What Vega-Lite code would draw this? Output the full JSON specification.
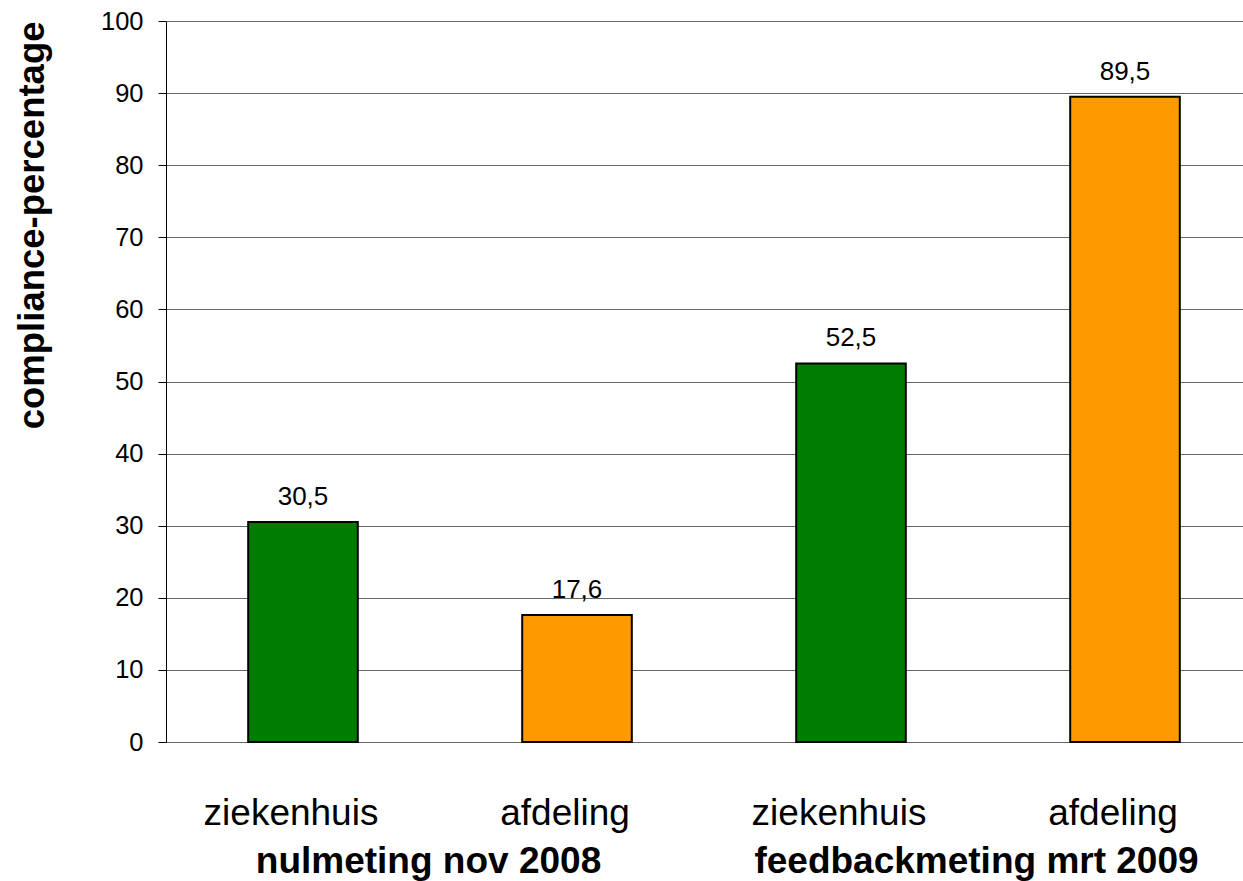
{
  "$schema": "https://vega.github.io/schema/vega-lite/v6.json",
  "width": 1077,
  "height": 721,
  "autosize": {"type": "none"},
  "padding": {"left": 166, "top": 21, "right": 0, "bottom": 139},
  "background": "white",
  "config": {
    "font": "Liberation Sans",
    "view": {"stroke": null},
    "locale": {"number": {"decimal": ",", "thousands": ".", "grouping": [3], "currency": ["€", ""]}}
  },
  "data": {
    "values": [
      {"meting": "nulmeting nov 2008", "niveau": "ziekenhuis", "staaf": "nulmeting nov 2008|ziekenhuis", "pct": 30.5},
      {"meting": "nulmeting nov 2008", "niveau": "afdeling", "staaf": "nulmeting nov 2008|afdeling", "pct": 17.6},
      {"meting": "feedbackmeting mrt 2009", "niveau": "ziekenhuis", "staaf": "feedbackmeting mrt 2009|ziekenhuis", "pct": 52.5},
      {"meting": "feedbackmeting mrt 2009", "niveau": "afdeling", "staaf": "feedbackmeting mrt 2009|afdeling", "pct": 89.5}
    ]
  },
  "layer": [
    {
      "encoding": {
        "x": {
          "field": "staaf",
          "type": "nominal",
          "sort": null,
          "scale": {"type": "band", "range": [0, 1096], "paddingInner": 0.6, "paddingOuter": 0.3},
          "axis": {
            "orient": "bottom",
            "title": null,
            "domain": false,
            "ticks": false,
            "tickSize": 0,
            "grid": false,
            "labelAngle": 0,
            "labelLimit": 0,
            "labelOverlap": false,
            "labelExpr": "split(datum.value, '|')[1]",
            "labelFont": "Liberation Sans",
            "labelFontSize": 37,
            "labelColor": "black",
            "labelPadding": 82,
            "labelOffset": -12,
            "labelBaseline": "alphabetic"
          }
        },
        "y": {
          "field": "pct",
          "type": "quantitative",
          "scale": {"domain": [0, 100], "nice": false},
          "axis": {
            "title": "compliance-percentage",
            "titleFont": "Liberation Sans",
            "titleFontSize": 36.5,
            "titleFontWeight": "bold",
            "titleColor": "black",
            "titleAnchor": "end",
            "titlePadding": 49,
            "values": [0, 10, 20, 30, 40, 50, 60, 70, 80, 90, 100],
            "labelFont": "Liberation Sans",
            "labelFontSize": 25.5,
            "labelColor": "black",
            "labelPadding": 15,
            "tickSize": 8,
            "tickColor": "black",
            "domainColor": "black",
            "domainWidth": 1,
            "grid": true,
            "gridColor": "#666666",
            "gridWidth": 1,
            "gridOpacity": 1
          }
        }
      },
      "layer": [
        {
          "mark": {"type": "bar", "stroke": "black", "strokeWidth": 2},
          "encoding": {
            "color": {
              "field": "niveau",
              "type": "nominal",
              "scale": {"domain": ["ziekenhuis", "afdeling"], "range": ["#007d00", "#ff9900"]},
              "legend": null
            }
          }
        },
        {
          "mark": {"type": "text", "baseline": "alphabetic", "dy": -17, "fontSize": 26, "font": "Liberation Sans", "color": "black"},
          "encoding": {
            "text": {"field": "pct", "type": "quantitative", "format": ".1f"}
          }
        }
      ]
    },
    {
      "mark": {"type": "point", "opacity": 0},
      "encoding": {
        "x": {
          "field": "meting",
          "type": "nominal",
          "sort": null,
          "scale": {"type": "point", "range": [0, 1096], "padding": 0.5},
          "axis": {
            "orient": "bottom",
            "title": null,
            "domain": false,
            "ticks": false,
            "tickSize": 0,
            "grid": false,
            "labelAngle": 0,
            "labelLimit": 0,
            "labelOverlap": false,
            "labelFlush": false,
            "labelFont": "Liberation Sans",
            "labelFontSize": 37,
            "labelFontWeight": "bold",
            "labelColor": "black",
            "labelPadding": 130,
            "labelOffset": -12,
            "labelBaseline": "alphabetic"
          }
        }
      }
    }
  ],
  "resolve": {"scale": {"x": "independent"}, "axis": {"x": "independent"}}
}
